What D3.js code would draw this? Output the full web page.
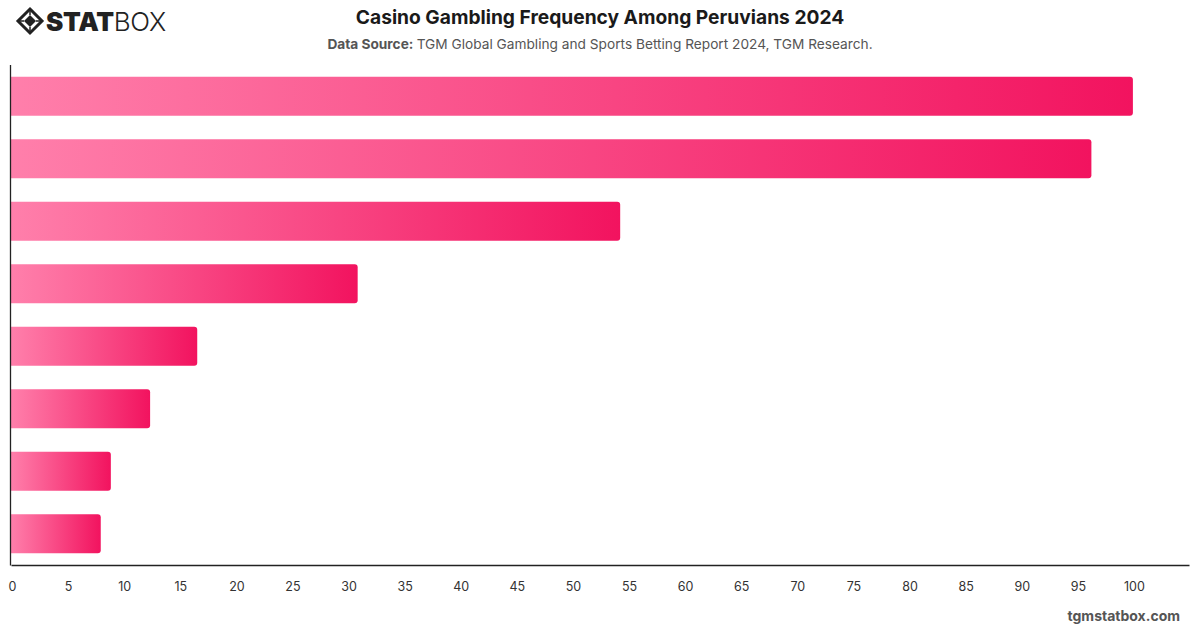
<!DOCTYPE html>
<html><head><meta charset="utf-8">
<script src="https://cdn.jsdelivr.net/npm/d3@7"></script>
<style>body{margin:0;background:#fff;}svg{display:block;font-family:Inter,"Noto Sans",sans-serif;}</style>
</head><body><svg id="c" width="1200" height="628"></svg>
<script>
const categories = ["1","2","3","4","5","6","7","8"];
const values = [100, 96.3, 54.3, 30.9, 16.6, 12.4, 8.9, 8.0];
const tickValues = [0,5,10,15,20,25,30,35,40,45,50,55,60,65,70,75,80,85,90,95,100];
const title = "Casino Gambling Frequency Among Peruvians 2024";

const svg = d3.select("#c");
const x = d3.scaleLinear().domain([0,105]).range([11,1189]);
const y = d3.scaleBand().domain(categories).range([65,565]).paddingInner(0.376).paddingOuter(0.188);

const defs = svg.append("defs");
const g = defs.append("linearGradient").attr("id","bg").attr("x1","0").attr("x2","1").attr("y1","0").attr("y2","0");
g.append("stop").attr("offset","0%").attr("stop-color","#ff7fab");
g.append("stop").attr("offset","100%").attr("stop-color","#f2135f");

svg.append("g").selectAll("path").data(values).join("path")
  .attr("fill","url(#bg)")
  .attr("d",(d,i)=>{
    const x0=x(0), x1=x(d), y0=y(categories[i]), h=y.bandwidth(), r=3;
    return `M${x0},${y0}H${x1-r}Q${x1},${y0} ${x1},${y0+r}V${y0+h-r}Q${x1},${y0+h} ${x1-r},${y0+h}H${x0}Z`;
  });

const xa = svg.append("g").attr("transform","translate(0,565)")
  .call(d3.axisBottom(x).tickValues(tickValues).tickSize(0).tickPadding(17).tickFormat(d3.format("d")));
xa.select(".domain").attr("stroke","#222").attr("stroke-width",1.3);
xa.selectAll("text").attr("fill","#333").attr("font-size",12.5).attr("dx",1).style("font-family","Inter,sans-serif");
svg.append("line").attr("x1",10.5).attr("x2",10.5).attr("y1",65).attr("y2",565.6).attr("stroke","#222").attr("stroke-width",1.3);

svg.append("text").attr("x",600).attr("y",24).attr("text-anchor","middle").attr("font-size",19.2).attr("font-weight",700).attr("fill","#1a1a1a").text(title);
const st = svg.append("text").attr("x",600).attr("y",49).attr("text-anchor","middle").attr("font-size",13.7).attr("fill","#555");
st.append("tspan").attr("font-weight",700).text("Data Source: ");
st.append("tspan").text("TGM Global Gambling and Sports Betting Report 2024, TGM Research.");

svg.append("text").attr("x",1180).attr("y",621).attr("text-anchor","end").attr("font-size",14).attr("font-weight",700).attr("fill","#555").text("tgmstatbox.com");

const lg = svg.append("g").attr("transform","translate(30,21)");
lg.append("path").attr("d","M0,-12L12,0L0,12L-12,0Z").attr("fill","none").attr("stroke","#222").attr("stroke-width",3);
lg.append("path").attr("d","M0,-6L6,0L0,6L-6,0Z").attr("fill","#222");
lg.append("path").attr("d","M-12,0L-6,0M6,0L12,0M0,-12L0,-6M0,6L0,12").attr("stroke","#222").attr("stroke-width",1.5);
const lt = svg.append("text").attr("x",46).attr("y",31).attr("font-size",26).attr("fill","#222").attr("letter-spacing",-0.3);
lt.append("tspan").attr("font-weight",900).text("STAT");
lt.append("tspan").attr("font-weight",300).text("BOX");
</script></body></html>
